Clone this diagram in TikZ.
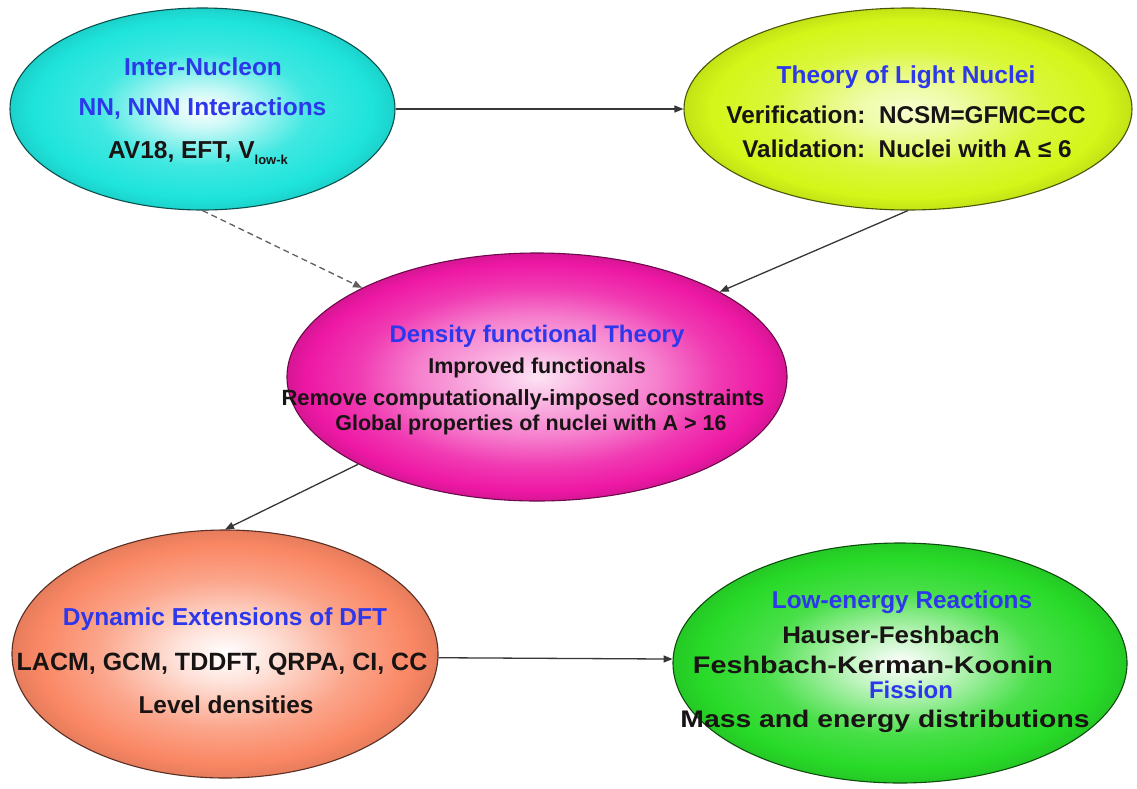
\documentclass[tikz,border=0pt]{standalone}
\usepackage{fontspec}
\setmainfont{Liberation Sans}
\usetikzlibrary{shapes.geometric,arrows.meta}
\definecolor{cyanC}{RGB}{30,228,220}
\definecolor{yelC}{RGB}{212,246,24}
\definecolor{magC}{RGB}{238,24,165}
\definecolor{oraC}{RGB}{250,135,100}
\definecolor{grnC}{RGB}{40,218,40}
\definecolor{titleblue}{RGB}{45,55,235}
\definecolor{txtC}{RGB}{25,20,20}
\definecolor{arrC}{RGB}{55,55,55}
\pgfdeclareradialshading{cyanS}{\pgfpoint{0bp}{0bp}}{color(0bp)=(white); color(5bp)=(cyanC!25); color(14bp)=(cyanC!85); color(22bp)=(cyanC); color(25bp)=(cyanC!92!black); color(50bp)=(cyanC!92!black)}
\pgfdeclareradialshading{yelS}{\pgfpoint{0bp}{0bp}}{color(0bp)=(yelC!20); color(6bp)=(yelC!40); color(15bp)=(yelC!85); color(22bp)=(yelC); color(25bp)=(yelC!92!black); color(50bp)=(yelC!92!black)}
\pgfdeclareradialshading{magS}{\pgfpoint{0bp}{0bp}}{color(0bp)=(magC!12); color(6bp)=(magC!35); color(12bp)=(magC!55); color(18bp)=(magC!85); color(23bp)=(magC); color(25bp)=(magC!90!black); color(50bp)=(magC!90!black)}
\pgfdeclareradialshading{oraS}{\pgfpoint{0bp}{0bp}}{color(0bp)=(white); color(6bp)=(oraC!25); color(15bp)=(oraC!75); color(22bp)=(oraC); color(25bp)=(oraC!92!black); color(50bp)=(oraC!92!black)}
\pgfdeclareradialshading{grnS}{\pgfpoint{0bp}{0bp}}{color(0bp)=(white); color(6bp)=(grnC!30); color(15bp)=(grnC!85); color(22bp)=(grnC); color(25bp)=(grnC!92!black); color(50bp)=(grnC!92!black)}
\newcommand\fsz[1]{\fontsize{#1}{#1}\selectfont}
\begin{document}
\begin{tikzpicture}[x=1pt,y=-1pt,
  ell/.style={ellipse, inner sep=0pt, line width=1.1pt},
  txt/.style={inner sep=0pt, anchor=base, text=txtC, font=\bfseries\fsz{24}},
  ttl/.style={txt, text=titleblue},
  body/.style={txt, font=\bfseries\fsz{22}},
  link/.style={draw=arrC, line width=1.3pt, -{Triangle[length=9pt,width=7pt]}},
  dlink/.style={link, dash pattern=on 6pt off 4pt, draw=arrC!80}]
\fill[white] (0,0) rectangle (1137,788);
\useasboundingbox (0,0) rectangle (1137,788);

% ellipses
\node[ell, shading=cyanS, draw=cyanC!35!black, minimum width=385, minimum height=202] (cyan) at (202.5,109) {};
\node[ell, shading=yelS, draw=yelC!35!black, minimum width=448, minimum height=202] (yellow) at (908,109) {};
\node[ell, shading=magS, draw=magC!45!black, minimum width=500, minimum height=248] (magenta) at (537,377) {};
\node[ell, shading=oraS, draw=oraC!35!black, minimum width=426, minimum height=248] (orange) at (225,654) {};
\node[ell, shading=grnS, draw=grnC!35!black, minimum width=454, minimum height=240] (green) at (900,663) {};

% texts
\node[ttl, font=\bfseries\fsz{24.5}] (c1) at (203,75) {Inter-Nucleon};
\node[ttl, font=\bfseries\fsz{24.5}] (c2) at (202.5,115) {NN, NNN Interactions};
\node[txt, font=\bfseries\fsz{24.5}] (c3) at (198,158) {AV18, EFT, V{\fsz{13}\raisebox{-6pt}{low-k}}};

\node[ttl, font=\bfseries\fsz{24.5}] (y1) at (906,83) {Theory of Light Nuclei};
\node[txt, font=\bfseries\fsz{24.3}] (y2) at (906,123) {Verification:\ \ NCSM=GFMC=CC};
\node[txt, font=\bfseries\fsz{24.3}] (y3) at (907,157) {Validation:\ \ Nuclei with A ≤ 6};

\node[ttl] (m1) at (537,342) {Density functional Theory};
\node[body, font=\bfseries\fsz{21.5}] (m2) at (537,373) {Improved functionals};
\node[body] (m3) at (523,405) {Remove computationally-imposed constraints};
\node[body, font=\bfseries\fsz{21.5}] (m4) at (531,430) {Global properties of nuclei with A > 16};

\node[ttl, font=\bfseries\fsz{24.5}] (o1) at (225,625) {Dynamic Extensions of DFT};
\node[txt, font=\bfseries\fsz{25}] (o2) at (222,670) {LACM, GCM, TDDFT, QRPA, CI, CC};
\node[txt, font=\bfseries\fsz{24.4}] (o3) at (226,713) {Level densities};

\node[ttl, font=\bfseries\fsz{24.4}] (g1) at (902,608) {Low-energy Reactions};
\node[txt] (g2) at (891,643) {\scalebox{1.08}[1]{Hauser-Feshbach}};
\node[txt] (g3) at (873,673) {\scalebox{1.2}[1]{Feshbach-Kerman-Koonin}};
\node[ttl] (g4) at (911,698) {Fission};
\node[txt] (g5) at (885,727) {\scalebox{1.18}[1]{Mass and energy distributions}};

% connectors
\draw[link] (cyan.east) -- (yellow.west);
\draw[dlink] (cyan.south) -- (magenta.153);
\draw[link] (yellow.south) -- (magenta.25);
\draw[link] (magenta.206) -- (orange.north);
\draw[link] (orange.-1) -- (green.179);
\end{tikzpicture}
\end{document}
